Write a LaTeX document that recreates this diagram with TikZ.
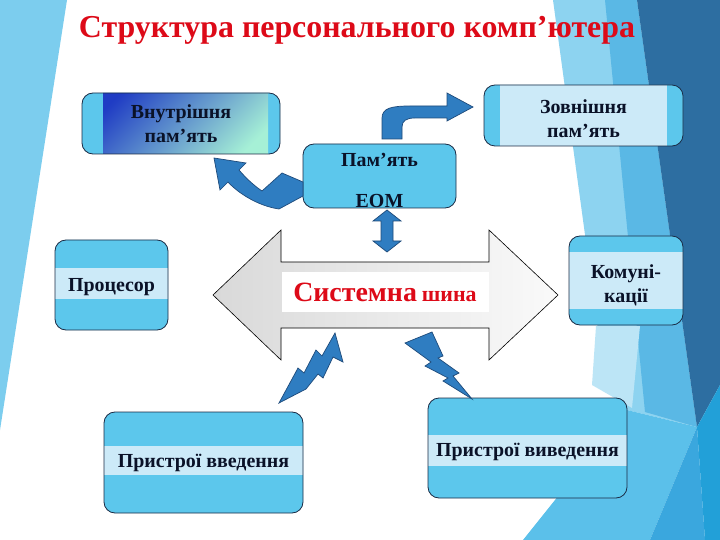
\documentclass[tikz,border=0pt]{standalone}
\usepackage{fontspec}
\setmainfont{Liberation Serif}
\usetikzlibrary{calc}
\definecolor{bgleft}{HTML}{7CCDEE}
\definecolor{bglight}{HTML}{8DD3F0}
\definecolor{bgmed}{HTML}{5AB8E5}
\definecolor{bgpale}{HTML}{BCE5F6}
\definecolor{bgdark}{HTML}{2D6EA1}
\definecolor{bgbl1}{HTML}{5BC0EA}
\definecolor{bgbl2}{HTML}{3AA7DE}
\definecolor{bgbl3}{HTML}{22A0D8}
\definecolor{boxblue}{HTML}{5CC7EC}
\definecolor{bandcol}{HTML}{CCEAF8}
\definecolor{boxline}{HTML}{1A2B45}
\definecolor{txtcol}{HTML}{0A1228}
\definecolor{arrblue}{HTML}{2F7DC1}
\definecolor{arrline}{HTML}{1E4A7A}
\definecolor{titlered}{HTML}{DD0A18}
\definecolor{gradA}{HTML}{1F3CC4}
\definecolor{gradB}{HTML}{A6F0D6}
\newcommand{\dropA}[1]{\rule{0pt}{#1}}
\tikzset{
  box/.style={rounded corners=11bp, fill=boxblue, draw=boxline, line width=0.8bp,
    text=txtcol, font=\fontsize{20}{24}\selectfont\bfseries, align=center, inner sep=0pt},
  hband/.style 2 args={path picture={\fill[bandcol, sharp corners]
      ([yshift=-#1]path picture bounding box.north west) rectangle
      ([yshift=-#2]path picture bounding box.north east);}},
  vband/.style={path picture={\fill[bandcol, sharp corners]
      ([xshift=#1]path picture bounding box.south west) rectangle
      ([xshift=-#1]path picture bounding box.north east);}},
  gband/.style={path picture={\shade[sharp corners, top color=gradA,bottom color=gradB,shading angle=45]
      ([xshift=21bp]path picture bounding box.south west) rectangle
      ([xshift=-12bp]path picture bounding box.north east);}},
  blockarrow/.style={fill=arrblue, draw=arrline, line width=0.7bp, line join=miter},
}
\begin{document}
\begin{tikzpicture}[x=1bp,y=-1bp]
\useasboundingbox (0,0) rectangle (720,540);
\fill[white] (0,0) rectangle (720,540);
% background facets
\fill[bgleft] (0,0) -- (67,0) -- (0,430) -- cycle;
\fill[bglight] (553,0) -- (637,0) -- (697,427) -- (627,410) -- (598,330) -- cycle;
\fill[bgmed] (605,0) -- (637,0) -- (697,427) -- (645,412) -- cycle;
\fill[bgpale] (596,326) -- (640,326) -- (632,408) -- (592,385) -- cycle;
\fill[bgdark] (637,0) -- (720,0) -- (720,385) -- (697,427) -- cycle;
\fill[bgbl1] (523,540) -- (627,410) -- (697,427) -- (650,540) -- cycle;
\fill[bgbl2] (650,540) -- (697,427) -- (705,540) -- cycle;
\fill[bgbl3] (697,427) -- (720,385) -- (720,540) -- (705,540) -- cycle;

% title
\node[anchor=base, text=titlered, font=\fontsize{32}{36}\selectfont\bfseries, inner sep=0pt]
  (title) at (357,38) {Структура персонального комп’ютера};

% system bus
\path[draw=black, line width=0.6bp, left color=black!15, right color=black!2]
  (213,295) -- (281,230) -- (281,262) -- (489,262) -- (489,230) -- (558,295)
  -- (489,360) -- (489,328) -- (281,328) -- (281,360) -- cycle;
\node[fill=white, minimum width=207bp, minimum height=40bp, inner sep=0pt,
  text=titlered, font=\fontsize{22}{26}\selectfont\bfseries] (bus) at (385,292)
  {{\fontsize{28}{30}\selectfont Системна}\hspace{5bp}шина};

% boxes
\node[box, gband, minimum width=198bp, minimum height=61bp] (inner) at (181,123.5)
  {Внутрішня\\пам’ять};
\node[box, vband=16bp, minimum width=199bp, minimum height=61bp] (ext) at (583.5,115.5)
  {\dropA{20bp}Зовнішня\\пам’ять};
\node[box, minimum width=153bp, minimum height=64bp] (mem) at (379.5,176)
  {\dropA{22bp}Пам’ять\\[17bp]ЕОМ};
\node[box, hband={28bp}{59bp}, minimum width=113bp, minimum height=90bp] (cpu) at (111.5,285)
  {\dropA{18bp}Процесор};
\node[box, hband={16bp}{73bp}, minimum width=114bp, minimum height=89bp] (comm) at (626,280.5)
  {\dropA{23bp}Комуні-\\кації};
\node[box, hband={34bp}{63bp}, minimum width=199bp, minimum height=101bp] (indev) at (203.5,462.5)
  {Пристрої введення};
\node[box, hband={37bp}{68bp}, minimum width=199bp, minimum height=100bp] (outdev) at (527.5,448)
  {\dropA{22bp}Пристрої виведення};

% arrow memory -> external memory
\path[blockarrow] (382,139) -- (382,118) .. controls (382,108) and (392,106) .. (410,106)
  -- (447,106) -- (447,93) -- (473,107) -- (447,121) -- (447,118) -- (415,118)
  .. controls (406,118) and (402,121) .. (402,127) -- (402,139) -- cycle;
% arrow memory -> internal memory
\path[blockarrow] (303,182) -- (282,173) -- (262,191) .. controls (253,185) and (245,177) .. (239,170)
  -- (246,163) -- (214,158) -- (220,190) -- (228,182)
  .. controls (238,193) and (258,206) .. (279,209) -- (303,196) -- cycle;
% double arrow memory <-> bus
\path[blockarrow] (387,210) -- (401,221) -- (393,221) -- (393,241) -- (401,241) -- (387,252)
  -- (373,241) -- (381,241) -- (381,221) -- (373,221) -- cycle;
% lightning bus -> input devices
\path[blockarrow] (279,403) -- (298,368) -- (304,373) -- (316,350) -- (322,356) -- (335,333)
  -- (343,362) -- (333,357) -- (323,378) -- (318,374) -- (306,389) -- cycle;
% lightning bus -> output devices
\path[blockarrow] (405,343) -- (432,332) -- (443,356) -- (438,358) -- (459,373) -- (453,376)
  -- (472,399) -- (443,381) -- (448,378) -- (425,366) -- (431,362) -- cycle;
\end{tikzpicture}
\end{document}
